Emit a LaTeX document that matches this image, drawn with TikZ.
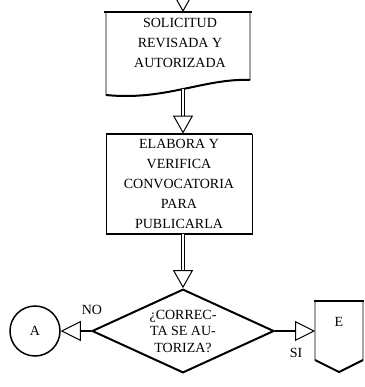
\documentclass[tikz,border=0pt]{standalone}
\usepackage{fontspec}
\setmainfont{Liberation Serif}
\usetikzlibrary{arrows.meta,shapes.geometric}
\begin{document}
\begin{tikzpicture}[x=1pt,y=-1pt,
  txt/.style={font=\fontsize{14}{20}\selectfont, align=center, inner sep=0pt},
  edge/.style={line width=0.8pt},
  heavy/.style={line width=2pt},
  procbox/.style={txt, draw, edge, minimum width=146pt, minimum height=100pt},
  decision/.style={diamond, draw, heavy, aspect=1.625, minimum width=182pt,
    inner sep=0pt, align=center, font=\fontsize{14}{16.5}\selectfont},
  connector/.style={circle, draw, line width=1.5pt, minimum size=50pt,
    inner sep=0pt, font=\fontsize{14}{16}\selectfont},
  vflow/.style={double, double distance=2pt, line width=0.7pt,
    -{Triangle[open, length=18pt, width=20pt, line width=1pt]}},
  hflow/.style={line width=2.5pt,
    -{Triangle[open, length=20pt, width=20pt, line width=1pt]}},
]
\useasboundingbox (0,0) rectangle (364,387);

% document shape with wavy bottom
\coordinate (topin) at (183,0);
\coordinate (doct) at (183,12);
\node[txt] (doc) at (180,42.5) {SOLICITUD\\REVISADA Y\\AUTORIZADA};
\draw[edge] (106,12) -- (106,95) .. controls (165,101) and (205,78) .. (250,80) -- (250,12);
\draw[heavy] (104,12) -- (252,12);
\draw[heavy] (106,95) .. controls (165,101) and (205,78) .. (250,80);
\coordinate (docb) at (183,88.6);

% process box
\node[procbox] (proc) at (179,184) {ELABORA Y\\VERIFICA\\CONVOCATORIA\\PARA\\PUBLICARLA};
\draw[heavy] (proc.north west) -- (proc.north east);
\draw[heavy] (proc.south west) -- (proc.south east);

% decision
\node[decision] (dec) at (183,331) {¿CORREC-\\TA SE AU-\\TORIZA?};

% on-page connector
\node[connector] (A) at (35,331) {A};

% off-page connector
\draw[edge] (315,301) -- (315,360) -- (339,372) -- (363,360) -- (363,301) -- cycle;
\draw[heavy] (314,301) -- (364,301);
\draw[heavy] (315,360) -- (339,372) -- (363,360);
\node[txt] (E) at (339,322) {E};
\coordinate (offw) at (315,331);

% flow
\draw[vflow] (topin) -- (doct);
\draw[vflow] (docb) -- (proc.north -| docb);
\draw[vflow] (proc.south -| dec.north) -- (dec.north);
\draw[hflow] (dec.west) -- (A.east);
\draw[hflow] (dec.east) -- (offw);

\node[txt] (no) at (92,310) {NO};
\node[txt] (si) at (296,353) {SI};
\end{tikzpicture}
\end{document}
